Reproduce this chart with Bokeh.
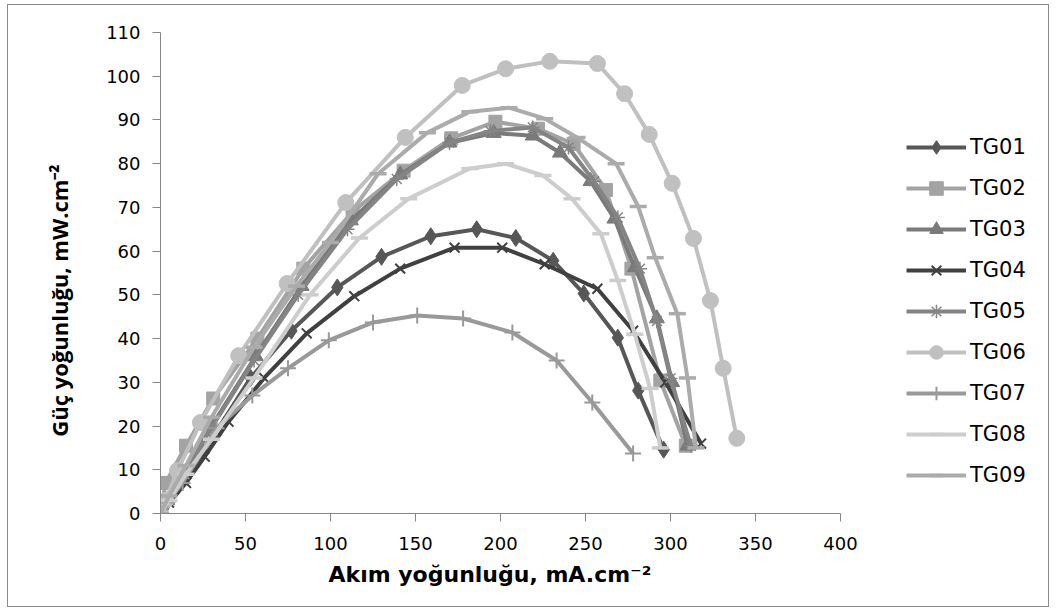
import math
from bokeh.plotting import figure
from bokeh.models import Range1d, FixedTicker, Title
from bokeh.embed import file_html
from bokeh.resources import INLINE

# ---- data ----
names = ["TG01", "TG02", "TG03", "TG04", "TG05", "TG06", "TG07", "TG08", "TG09"]

tg01_x = [0, 3, 10, 25, 53, 77, 104, 130, 159, 186, 209, 231, 249, 269, 281, 296]
tg01_y = [0, 2, 6, 14, 31, 41.8, 51.7, 58.7, 63.4, 65, 63, 57.8, 50.3, 40.2, 28.1, 14.6]

tg02_x = [0, 3, 15, 31, 57, 84, 113, 143, 171, 197, 222, 243, 262, 277, 294, 309]
tg02_y = [0, 7, 15.5, 26.3, 40, 56, 69, 78.4, 85.8, 89.6, 88, 84.5, 74, 56, 30.4, 15.5]

tg03_x = [0, 4, 14, 30, 56, 83, 112, 141, 170, 196, 219, 235, 253, 267, 279, 292, 301, 310]
tg03_y = [0, 3, 9, 20, 36, 52, 67, 77.5, 84.8, 87, 86.4, 82.5, 76, 67.4, 56.3, 44.6, 30, 15.5]

tg04_x = [0, 5, 15, 26, 40, 61, 86, 114, 141, 173, 201, 226, 257, 278, 297, 318]
tg04_y = [0, 2.5, 7, 13, 21, 31, 41.2, 49.7, 56, 60.8, 60.8, 57, 51.4, 41.8, 30, 16]

tg05_x = [0, 4, 14, 29, 55, 81, 110, 139, 170, 194, 219, 240, 255, 269, 282, 292, 300, 312]
tg05_y = [0, 3, 9, 19, 35, 50, 65, 76.5, 84.8, 87.5, 88.3, 83.7, 76, 67.7, 56, 44, 30.9, 15.5]

tg06_x = [0, 3, 10, 23.5, 46, 74.5, 109, 144, 177.5, 203, 229, 257, 273, 287.5, 301, 313.5, 323.5, 331, 339]
tg06_y = [0, 3, 9.8, 20.8, 36.1, 52.6, 71.1, 86, 97.9, 101.7, 103.4, 102.9, 96, 86.7, 75.5, 62.9, 48.7, 33.2, 17.2]

tg07_x = [0, 4, 13, 33, 54, 75, 99, 125, 151, 178, 207, 233, 254, 278]
tg07_y = [0, 2.5, 7, 19.5, 27, 33.2, 39.6, 43.7, 45.3, 44.6, 41.4, 35, 25.4, 13.7]

tg08_x = [0, 5, 15, 30, 55, 88, 117, 146, 182, 203, 225, 242, 259, 269, 279, 288, 294]
tg08_y = [0, 3, 9, 17, 31, 50, 63, 72, 78.9, 80, 77.3, 72, 64, 53.3, 41, 28.6, 15]

tg09_x = [0, 5, 15, 30, 55, 80, 100, 128, 157, 182, 205, 226, 245, 268, 281, 291, 304, 310, 315]
tg09_y = [0, 4, 11, 22, 38, 52, 62, 77.7, 87.1, 91.9, 92.8, 90.3, 86, 80, 70.2, 58.5, 45.7, 31, 15]

x_ticks = [0, 50, 100, 150, 200, 250, 300, 350, 400]
y_ticks = [0, 10, 20, 30, 40, 50, 60, 70, 80, 90, 100, 110]

x_title = "Akım yoğunluğu, mA.cm⁻²"
y_title = "Güç yoğunluğu, mW.cm⁻²"

# ---- styling ----
xs = [tg01_x, tg02_x, tg03_x, tg04_x, tg05_x, tg06_x, tg07_x, tg08_x, tg09_x]
ys = [tg01_y, tg02_y, tg03_y, tg04_y, tg05_y, tg06_y, tg07_y, tg08_y, tg09_y]
colors = ["#575757", "#a3a3a3", "#7a7a7a", "#404040", "#848484", "#c0c0c0", "#999999", "#cdcdcd", "#ababab"]
markers = ["diamond", "square", "triangle", "x", "asterisk", "circle", "cross", "dash", "dash"]
sizes = [17, 13, 15, 14, 14, 16, 16, 17, 17]
mlw = [1, 1, 1, 2, 1.5, 1, 2, 3.5, 3.5]

# frame spans to the right edge so the legend sits inside it; 400 stays at the axis end
X_END = 400 * 890 / 680

p = figure(width=1042, height=603, x_range=Range1d(0, X_END), y_range=Range1d(0, 110),
           output_backend="svg", toolbar_location=None,
           min_border_left=152, min_border_right=0, min_border_top=27, min_border_bottom=95)
p.margin = (4, 0, 0, 7)
p.styles = {"border": "1px solid #8a8a8a"}
p.outline_line_color = None
p.xgrid.visible = False
p.ygrid.visible = False
p.background_fill_color = "white"

for i, n in enumerate(names):
    p.line(xs[i], ys[i], line_color=colors[i], line_width=4, legend_label=n)
    p.scatter(xs[i], ys[i], marker=markers[i], size=sizes[i],
              fill_color=colors[i], line_color=colors[i], line_width=mlw[i], legend_label=n)

for ax in (p.xaxis[0], p.yaxis[0]):
    ax.axis_line_color = "#868686"
    ax.major_tick_line_color = "#868686"
    ax.major_tick_out = 8
    ax.major_tick_in = 0
    ax.minor_tick_line_color = None
    ax.major_label_text_font = "DejaVu Sans"
    ax.major_label_text_font_size = "18px"
    ax.major_label_text_color = "#000000"
    ax.axis_label_text_color = "#000000"
    ax.axis_label_text_font_style = "bold"

p.xaxis.bounds = (0, 400)
p.xaxis.ticker = FixedTicker(ticks=x_ticks)
p.yaxis.ticker = FixedTicker(ticks=y_ticks)
p.yaxis.major_label_standoff = 12
p.xaxis.major_label_standoff = 15

# x title: placed under the axis, starting where the reference's title starts
xt = Title(text=x_title, align="left", offset=168, text_font="DejaVu Sans",
           text_font_style="bold", text_font_size="22px", text_color="#000000", standoff=14)
p.add_layout(xt, "below")

# trailing em/en spaces shift the rotated title's centre down, as in the reference
p.yaxis.axis_label = y_title + "\u2003\u2003\u2002"
p.yaxis.axis_label_text_font = "Open Sans"
p.yaxis.axis_label_text_font_size = "22px"
p.yaxis.axis_label_standoff = 29

leg = p.legend[0]
leg.location = (746, 21)
leg.orientation = "vertical"
leg.padding = 0
leg.margin = 0
leg.spacing = 7
leg.glyph_width = 60
leg.glyph_height = 34
leg.label_height = 34
leg.label_standoff = 4
leg.border_line_color = None
leg.background_fill_alpha = 0
leg.label_text_font = "DejaVu Sans"
leg.label_text_font_size = "21px"
leg.label_text_color = "#000000"

open("out.html", "w").write(file_html(p, INLINE))
